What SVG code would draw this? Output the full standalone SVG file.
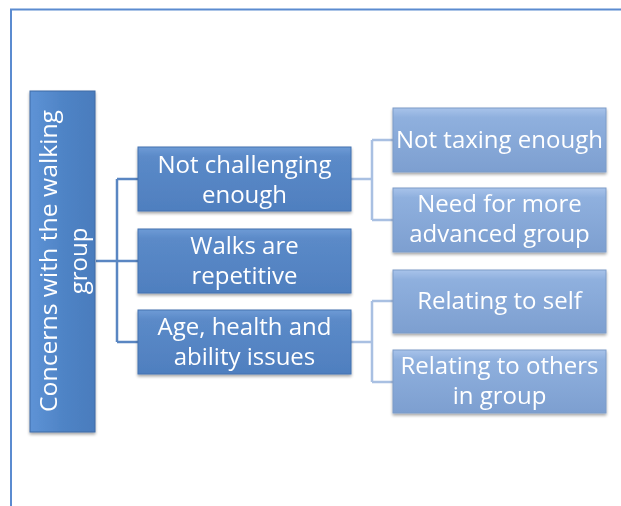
<svg xmlns="http://www.w3.org/2000/svg" width="621" height="506" viewBox="0 0 621 506">
<style>
.t{font-family:"Open Sans","Liberation Sans",sans-serif;font-size:24px;fill:#fff;text-anchor:middle}
.c1{fill:none;stroke:#5a86c2;stroke-width:2.5}
.c2{fill:none;stroke:#a9c0e2;stroke-width:2.5}
.b0{fill:url(#g0);stroke:#3f6ba5;stroke-width:1}
.b1{fill:url(#g1);stroke:#4573b0;stroke-width:1}
.b2{fill:url(#g2);stroke:#7d9cc8;stroke-width:1}
</style>
<defs>
<linearGradient id="g0" x1="0" y1="0" x2="1" y2="0"><stop offset="0" stop-color="#5e93d6"/><stop offset="0.5" stop-color="#4f84c6"/><stop offset="1" stop-color="#4a7cbd"/></linearGradient>
<linearGradient id="g1" x1="0" y1="0" x2="0" y2="1"><stop offset="0" stop-color="#6e9bd6"/><stop offset="0.15" stop-color="#5b8ac8"/><stop offset="1" stop-color="#4f7fbf"/></linearGradient>
<linearGradient id="g2" x1="0" y1="0" x2="0" y2="1"><stop offset="0" stop-color="#a8c3ea"/><stop offset="0.15" stop-color="#8fb0de"/><stop offset="1" stop-color="#7d9fd0"/></linearGradient>
<filter id="sh" x="-10%" y="-10%" width="120%" height="130%"><feGaussianBlur in="SourceAlpha" stdDeviation="1.5"/><feOffset dy="2" result="b"/><feComponentTransfer><feFuncA type="linear" slope="0.35"/></feComponentTransfer><feMerge><feMergeNode/><feMergeNode in="SourceGraphic"/></feMerge></filter>
</defs>
<rect width="621" height="506" fill="#fff"/>
<path d="M11 506V9.5H621" fill="none" stroke="#5b8bd0" stroke-width="2"/>
<g id="connectors">
<path class="c1" d="M96 261H117M117 179V342M117 179H138M117 261H138M117 342H138"/>
<path class="c2" d="M351 179H372M372 140V220M372 140H393M372 220H393"/>
<path class="c2" d="M351 342H372M372 301V382M372 301H393M372 382H393"/>
</g>
<g id="root" filter="url(#sh)">
<rect class="b0" x="30" y="91" width="65" height="341"/>
<text class="t" transform="rotate(-90)" x="-261" y="57" textLength="302" lengthAdjust="spacingAndGlyphs">Concerns with the walking</text>
<text class="t" transform="rotate(-90)" x="-261" y="87">group</text>
</g>
<g id="n1" filter="url(#sh)">
<rect class="b1" x="138" y="147" width="213" height="64"/>
<text class="t" x="244.5" y="173">Not challenging</text>
<text class="t" x="244.5" y="203">enough</text>
</g>
<g id="n2" filter="url(#sh)">
<rect class="b1" x="138" y="229" width="213" height="64"/>
<text class="t" x="244.5" y="254">Walks are</text>
<text class="t" x="244.5" y="284">repetitive</text>
</g>
<g id="n3" filter="url(#sh)">
<rect class="b1" x="138" y="310" width="213" height="64"/>
<text class="t" x="244.5" y="335">Age, health and</text>
<text class="t" x="244.5" y="365">ability issues</text>
</g>
<g id="n11" filter="url(#sh)">
<rect class="b2" x="393" y="108" width="213" height="64"/>
<text class="t" x="499.5" y="148">Not taxing enough</text>
</g>
<g id="n12" filter="url(#sh)">
<rect class="b2" x="393" y="188" width="213" height="64"/>
<text class="t" x="499.5" y="212">Need for more</text>
<text class="t" x="499.5" y="242">advanced group</text>
</g>
<g id="n31" filter="url(#sh)">
<rect class="b2" x="393" y="270" width="213" height="63"/>
<text class="t" x="499.5" y="309">Relating to self</text>
</g>
<g id="n32" filter="url(#sh)">
<rect class="b2" x="393" y="350" width="213" height="63"/>
<text class="t" x="499.5" y="374">Relating to others</text>
<text class="t" x="499.5" y="404">in group</text>
</g>
</svg>
